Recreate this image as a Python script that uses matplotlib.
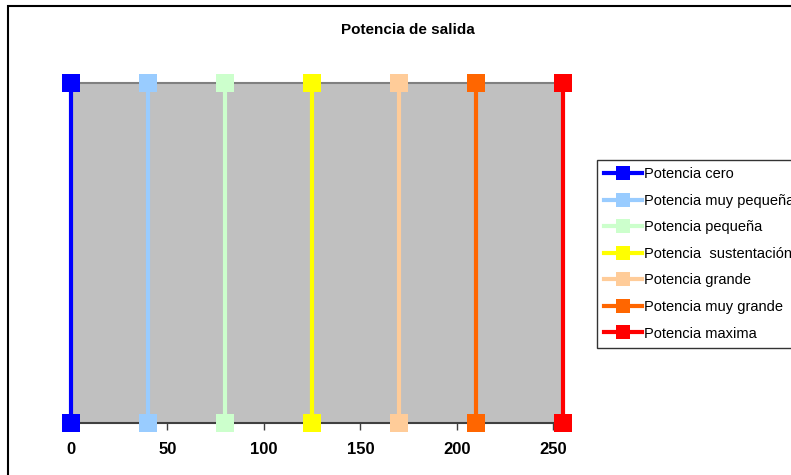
import matplotlib
matplotlib.use("Agg")
import matplotlib.pyplot as plt
from matplotlib.patches import Rectangle

plt.rcParams['font.family'] = ['Liberation Sans', 'DejaVu Sans']

series_names = ["Potencia cero", "Potencia muy pequeña", "Potencia pequeña",
                "Potencia  sustentación", "Potencia grande", "Potencia muy grande",
                "Potencia maxima"]
series_x = [0, 40, 80, 125, 170, 210, 255]
series_y = [0, 1]
series_colors = ["#0000FF", "#99CCFF", "#CCFFCC", "#FFFF00", "#FFCC99", "#FF6600", "#FF0000"]
x_ticks = [0, 50, 100, 150, 200, 250]
title = "Potencia de salida"

W, H = 791, 475
fig = plt.figure(figsize=(W / 100, H / 100), dpi=100)

# outer chart border (clipped on right and bottom)
fig.patches.append(Rectangle((8 / W, -0.1), 1.2, (H - 6) / H + 0.1,
                             transform=fig.transFigure, fill=False,
                             edgecolor="black", linewidth=1.5, zorder=0))

left, right, top, bottom = 71, 563, 83, 423
ax = fig.add_axes([left / W, (H - bottom) / H, (right - left) / W, (bottom - top) / H])
ax.set_facecolor("#C0C0C0")

for name, xv, col in zip(series_names, series_x, series_colors):
    ax.plot([xv, xv], series_y, color=col, linewidth=3, marker="s",
            markersize=12.5, markeredgewidth=0, label=name, clip_on=False, zorder=3)

ax.set_xlim(0, 255)
ax.set_ylim(0, 1)
ax.set_xticks(x_ticks)
ax.set_xticklabels([str(t) for t in x_ticks], fontweight="bold", fontsize=12)
ax.tick_params(axis="x", direction="out", length=5, width=1, color="#404040", pad=9)
ax.set_yticks([])
for s in ["left", "right"]:
    ax.spines[s].set_visible(False)
ax.spines["top"].set_color("#808080")
ax.spines["top"].set_linewidth(1.5)
ax.spines["bottom"].set_color("#404040")
ax.spines["bottom"].set_linewidth(1.5)

fig.text(408 / W, 1 - 30 / H, title, ha="center", va="center",
         fontweight="bold", fontsize=11)

leg = fig.legend(loc="upper left", bbox_to_anchor=(597 / W, 1 - 160 / H),
                 bbox_transform=fig.transFigure, borderaxespad=0,
                 frameon=True, fancybox=False, fontsize=10.5,
                 handlelength=2.6, handletextpad=0.15, labelspacing=0.86,
                 borderpad=0.5, markerscale=0.8)
leg.get_frame().set_edgecolor("black")
leg.get_frame().set_linewidth(1.0)

fig.savefig("out.png", dpi=100)
